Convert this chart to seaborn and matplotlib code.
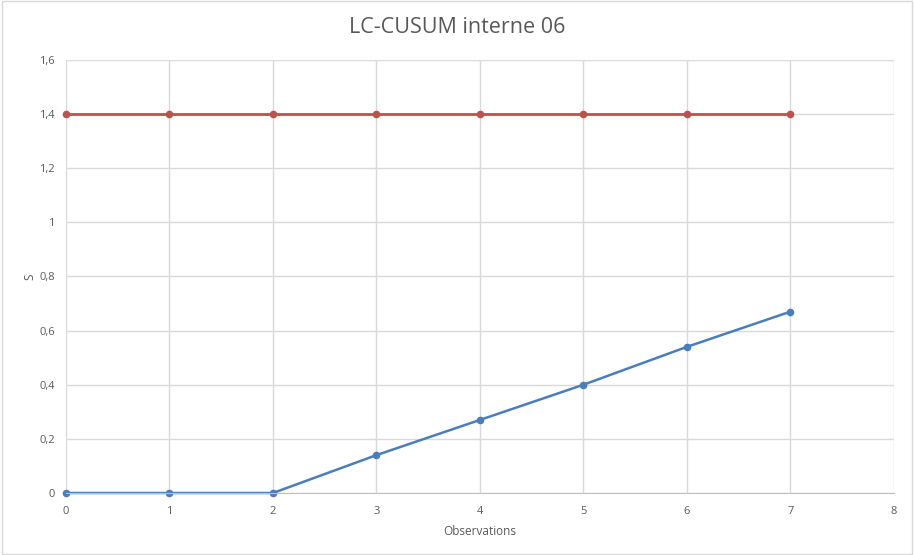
#LC-CUSUM chart
import pandas as pd
import numpy as np
import matplotlib
matplotlib.use('Agg')
import matplotlib.pyplot as plt
import seaborn as sns

#data
observations=[0,1,2,3,4,5,6,7]
s_values=[0,0,0,0.14,0.27,0.40,0.54,0.67]
limit=[1.4,1.4,1.4,1.4,1.4,1.4,1.4,1.4]
y_ticks=[0,0.2,0.4,0.6,0.8,1,1.2,1.4,1.6]
y_labels=['0','0,2','0,4','0,6','0,8','1','1,2','1,4','1,6']
x_ticks=[0,1,2,3,4,5,6,7,8]

df=pd.DataFrame({'Observations':observations,'S':s_values,'Limit':limit})

sns.set_style('whitegrid')
plt.rcParams['font.family']=['Open Sans','DejaVu Sans']

fig=plt.figure(figsize=(9.14,5.55),dpi=100)
ax=fig.add_axes([0.0722,0.1117,0.9058,0.7803])

sns.lineplot(x='Observations',y='Limit',data=df,color='#C0504D',linewidth=2.0,
             marker='o',markersize=5.5,markeredgewidth=0,ax=ax,clip_on=False)
sns.lineplot(x='Observations',y='S',data=df,color='#4A7EBB',linewidth=1.8,
             marker='o',markersize=5.5,markeredgewidth=0,ax=ax,clip_on=False)

ax.set_xlim(0,8)
ax.set_ylim(0,1.6)
ax.set_xticks(x_ticks)
ax.set_yticks(y_ticks)
ax.set_yticklabels(y_labels)
ax.grid(True,color='#D9D9D9',linewidth=1)
for side in ['top','right','left']:
    ax.spines[side].set_visible(False)
ax.spines['bottom'].set_color('#BFBFBF')
ax.tick_params(axis='both',length=0,labelsize=8,colors='#595959')
ax.tick_params(axis='x',pad=9)
ax.tick_params(axis='y',pad=8)

ax.set_xlabel('Observations',fontsize=8.5,color='#595959',labelpad=6)
ax.set_ylabel('S',fontsize=8.5,color='#595959',labelpad=2)
fig.suptitle('LC-CUSUM interne 06',fontsize=15.5,color='#595959',y=0.97)

#light frame around the chart
fig.patches.append(plt.Rectangle((0.002,0.002),0.996,0.996,transform=fig.transFigure,
                                 fill=False,edgecolor='#D9D9D9',linewidth=1))

plt.savefig('out.png',dpi=100)
